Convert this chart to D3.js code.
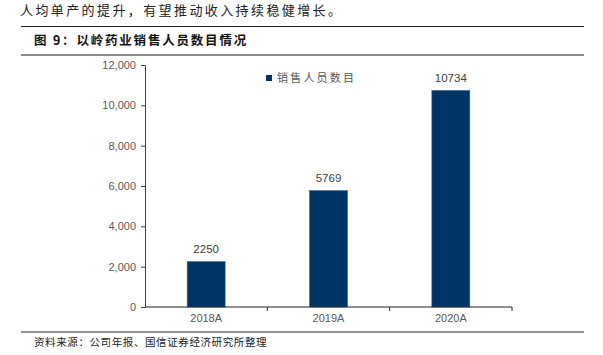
<!DOCTYPE html>
<html><head><meta charset="utf-8">
<script src="https://cdn.jsdelivr.net/npm/d3@7"></script>
<style>body{margin:0;background:#fff}svg{display:block}</style>
</head><body>
<script>
const categories = ["2018A", "2019A", "2020A"];
const values = [2250, 5769, 10734];
const yTicks = [0, 2000, 4000, 6000, 8000, 10000, 12000];
const seriesName = "销售人员数目";
const titleText = "图 9：以岭药业销售人员数目情况";
const sourceText = "资料来源：公司年报、国信证券经济研究所整理";
const topText = "人均单产的提升，有望推动收入持续稳健增长。";

const W = 603, H = 355;
const svg = d3.select("body").append("svg").attr("width", W).attr("height", H);
const cjk = "'Noto Sans CJK SC', sans-serif";
const lat = "'Liberation Sans', Arial, sans-serif";

svg.append("text").attr("x", 20).attr("y", 15).attr("font-family", cjk).attr("font-size", 13)
  .attr("letter-spacing", 2.4).attr("fill", "#222").text(topText);

svg.append("line").attr("x1", 21).attr("x2", 584).attr("y1", 26.5).attr("y2", 26.5)
  .attr("stroke", "#222").attr("stroke-width", 1.2);
svg.append("text").attr("x", 34).attr("y", 45).attr("font-family", cjk).attr("font-size", 12.5)
  .attr("font-weight", "bold").attr("letter-spacing", 1.8).attr("fill", "#111").text(titleText);
svg.append("line").attr("x1", 21).attr("x2", 584).attr("y1", 55).attr("y2", 55)
  .attr("stroke", "#8c8c8c").attr("stroke-width", 2);

const x = d3.scaleBand().domain(categories).range([145, 512]).paddingInner(0.69).paddingOuter(0.345);
const y = d3.scaleLinear().domain([0, 12000]).range([307, 65]);

const g = svg.append("g");
g.selectAll("rect").data(values).join("rect")
  .attr("x", (d, i) => x(categories[i])).attr("width", x.bandwidth())
  .attr("y", d => y(d)).attr("height", d => y(0) - y(d))
  .attr("fill", "#003366").attr("stroke", "#2f5f8f").attr("stroke-width", 0.6);

g.selectAll("text.lbl").data(values).join("text").attr("class", "lbl")
  .attr("x", (d, i) => x(categories[i]) + x.bandwidth() / 2).attr("y", d => y(d) - 9)
  .attr("text-anchor", "middle").attr("font-family", lat).attr("font-size", 11.5)
  .attr("fill", "#404040").text(d => d);

const yAxis = svg.append("g").attr("transform", "translate(145,0)")
  .call(d3.axisLeft(y).tickValues(yTicks).tickSize(4).tickFormat(d3.format(",")));
yAxis.select(".domain").attr("stroke", "#404040");
yAxis.selectAll(".tick line").attr("stroke", "#404040");
yAxis.selectAll("text").attr("font-family", lat).attr("font-size", 11).attr("fill", "#595959").attr("dx", -2);

const xAxis = svg.append("g").attr("transform", "translate(0,307)")
  .call(d3.axisBottom(x).tickSize(0));
xAxis.select(".domain").attr("stroke", "#222").attr("d", "M145,0H512");
xAxis.selectAll("text").attr("font-family", lat).attr("font-size", 11).attr("fill", "#595959").attr("dy", "1.05em");
const bounds = [1, 2, 3].map(i => 145 + i * x.step());
xAxis.selectAll("line.sep").data(bounds).join("line").attr("class", "sep")
  .attr("x1", d => d).attr("x2", d => d).attr("y1", 0).attr("y2", 4).attr("stroke", "#222");

svg.append("rect").attr("x", 266).attr("y", 75).attr("width", 6).attr("height", 6).attr("fill", "#003366");
svg.append("text").attr("x", 277).attr("y", 81.5).attr("font-family", cjk).attr("font-size", 11)
  .attr("letter-spacing", 2.2).attr("fill", "#595959").text(seriesName);

svg.append("line").attr("x1", 21).attr("x2", 584).attr("y1", 332).attr("y2", 332)
  .attr("stroke", "#222").attr("stroke-width", 1);
svg.append("text").attr("x", 34).attr("y", 346).attr("font-family", cjk).attr("font-size", 10.5)
  .attr("letter-spacing", 0.6).attr("fill", "#222").text(sourceText);
</script>
</body></html>
